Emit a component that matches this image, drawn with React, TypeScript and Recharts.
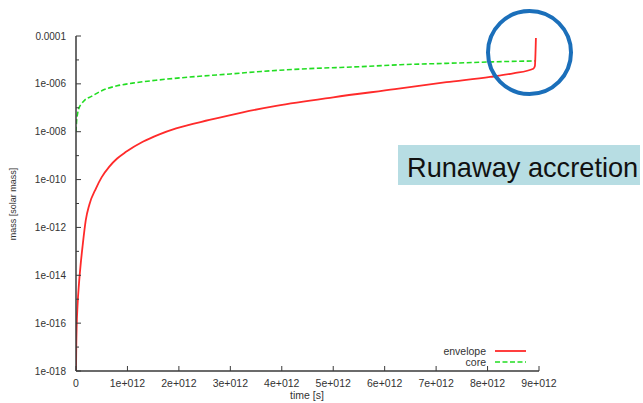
import React from 'react';
import { LineChart, Line, XAxis, YAxis } from 'recharts';

// time in units of 1e12 s
const TIME_UNIT = 1e12;

const envelopeTime = [0, 0.005, 0.013, 0.03, 0.058, 0.09, 0.13, 0.19, 0.259, 0.389, 0.5, 0.648, 0.8, 0.973, 1.298, 1.621, 1.946, 2.593, 3.243, 3.891, 5.0, 6.2, 7.2, 8.05, 8.5, 8.89, 8.92, 8.94];
const envelopeMass = [1e-18, 1e-17, 7.1e-17, 5.6e-16, 4.5e-15, 2.8e-14, 1.8e-13, 2.0e-12, 8.9e-12, 4.3e-11, 1.26e-10, 3.5e-10, 7.6e-10, 1.45e-9, 3.8e-9, 7.8e-9, 1.38e-8, 3.1e-8, 6.5e-8, 1.2e-7, 2.75e-7, 6.0e-7, 1.17e-6, 1.95e-6, 2.75e-6, 4.3e-6, 5.6e-6, 8.3e-5];

const coreTime = [0, 0.01, 0.03, 0.06, 0.1, 0.17, 0.3, 0.5, 0.8, 1.1, 1.6, 2.3, 3.0, 3.6, 4.5, 5.5, 6.3, 7.2, 8.1, 8.92];
const coreMass = [1.0e-8, 2.5e-8, 5.6e-8, 1.0e-7, 1.4e-7, 2.1e-7, 3.0e-7, 5.2e-7, 8.3e-7, 1.07e-6, 1.45e-6, 2.0e-6, 2.6e-6, 3.3e-6, 4.3e-6, 5.2e-6, 6.3e-6, 7.2e-6, 8.3e-6, 9.1e-6];

const xTickUnits = [0, 1, 2, 3, 4, 5, 6, 7, 8, 9];
const yTickExponents = [-18, -17, -16, -15, -14, -13, -12, -11, -10, -9, -8, -7, -6, -5, -4];
const yLabelExponents = [-18, -16, -14, -12, -10, -8, -6, -4];

const seriesInfo = [
  { name: 'envelope', color: '#ff2a2a', dash: undefined as string | undefined, width: 1.8 },
  { name: 'core', color: '#22dd22', dash: '5 2.5', width: 1.6 },
];

const envelopeData = envelopeTime.map((t, i) => ({ t: t * TIME_UNIT, m: envelopeMass[i] }));
const coreData = coreTime.map((t, i) => ({ t: t * TIME_UNIT, m: coreMass[i] }));
const xTicks = xTickUnits.map((k) => k * TIME_UNIT);
const yTicks = yTickExponents.map((e) => Number(`1e${e}`));

const FONT = '"Liberation Sans", Arial, sans-serif';
const AXIS = '#3a3a3a';
const TXT = '#333';

const expOf = (v: number) => Math.round(Math.log10(v));
const fmtX = (v: number) => {
  const k = Math.round(v / TIME_UNIT);
  return k === 0 ? '0' : `${k}e+012`;
};
const fmtY = (v: number) => {
  const e = expOf(v);
  return e === -4 ? '0.0001' : `1e-${String(-e).padStart(3, '0')}`;
};

const LeftTick = (props: any) => {
  const { x, y, payload } = props;
  const e = expOf(payload.value);
  const major = yLabelExponents.includes(e);
  const edge = x + 10;
  return (
    <g>
      <line x1={edge} x2={edge + (major ? 5 : 3)} y1={y} y2={y} stroke={AXIS} strokeWidth={1} />
      {major && (
        <text x={x} y={y} dy="0.36em" textAnchor="end" fontSize={10} fontFamily={FONT} fill={TXT}>
          {fmtY(payload.value)}
        </text>
      )}
    </g>
  );
};

const RightTick = (props: any) => {
  const { x, y, payload } = props;
  const e = expOf(payload.value);
  const major = yLabelExponents.includes(e);
  return <line x1={x - (major ? 5 : 3)} x2={x} y1={y} y2={y} stroke={AXIS} strokeWidth={1} />;
};

const BottomTick = (props: any) => {
  const { x, y, payload } = props;
  return (
    <g>
      <line x1={x} x2={x} y1={y} y2={y - 5} stroke={AXIS} strokeWidth={1} />
      <text x={x} y={y + 15.5} textAnchor="middle" fontSize={10.5} fontFamily={FONT} fill={TXT}>
        {fmtX(payload.value)}
      </text>
    </g>
  );
};

const TopTick = (props: any) => {
  const { x, y } = props;
  return <line x1={x} x2={x} y1={y} y2={y + 5} stroke={AXIS} strokeWidth={1} />;
};

export default function App() {
  return (
    <div style={{ position: 'absolute', left: 0, top: 0, width: 643, height: 403, background: '#fff', overflow: 'hidden' }}>
      <LineChart width={643} height={403} margin={{ top: 36, right: 104, bottom: 0, left: 0 }}>
        <XAxis
          dataKey="t"
          type="number"
          domain={[0, 9 * TIME_UNIT]}
          ticks={xTicks}
          interval={0}
          allowDataOverflow
          height={32}
          tickSize={0}
          tickMargin={0}
          tickLine={false}
          tick={<BottomTick />}
          axisLine={{ stroke: AXIS, strokeWidth: 1.5 }}
        />
        <XAxis
          xAxisId="top"
          orientation="top"
          dataKey="t"
          type="number"
          domain={[0, 9 * TIME_UNIT]}
          ticks={xTicks}
          interval={0}
          allowDataOverflow
          height={0}
          tickSize={0}
          tickMargin={0}
          tickLine={false}
          tick={<TopTick />}
          axisLine={{ stroke: AXIS, strokeWidth: 1.5 }}
        />
        <YAxis
          type="number"
          scale="log"
          domain={[1e-18, 1e-4]}
          ticks={yTicks}
          interval={0}
          allowDataOverflow
          width={76}
          tickSize={0}
          tickMargin={10}
          tickLine={false}
          tick={<LeftTick />}
          axisLine={{ stroke: AXIS, strokeWidth: 1.5 }}
        />
        <YAxis
          yAxisId="right"
          orientation="right"
          type="number"
          scale="log"
          domain={[1e-18, 1e-4]}
          ticks={yTicks}
          interval={0}
          allowDataOverflow
          width={0}
          tickSize={0}
          tickMargin={0}
          tickLine={false}
          tick={<RightTick />}
          axisLine={{ stroke: AXIS, strokeWidth: 1.5 }}
        />
        <Line
          data={coreData}
          dataKey="m"
          name={seriesInfo[1].name}
          type="monotone"
          stroke={seriesInfo[1].color}
          strokeWidth={seriesInfo[1].width}
          strokeDasharray={seriesInfo[1].dash}
          dot={false}
          activeDot={false}
          isAnimationActive={false}
        />
        <Line
          data={envelopeData}
          dataKey="m"
          name={seriesInfo[0].name}
          type="monotone"
          stroke={seriesInfo[0].color}
          strokeWidth={seriesInfo[0].width}
          dot={false}
          activeDot={false}
          isAnimationActive={false}
        />
      </LineChart>

      {/* axis titles */}
      <div style={{ position: 'absolute', left: 257, top: 388, width: 100, textAlign: 'center', fontFamily: FONT, fontSize: 10.5, color: TXT, lineHeight: '14px' }}>
        time [s]
      </div>
      <div
        style={{
          position: 'absolute', left: 12.5, top: 203.5, width: 120, marginLeft: -60, marginTop: -7,
          textAlign: 'center', fontFamily: FONT, fontSize: 9, color: TXT, lineHeight: '14px',
          transform: 'rotate(-90deg)',
        }}
      >
        mass [solar mass]
      </div>

      {/* legend */}
      {seriesInfo.map((s, i) => (
        <div key={s.name} style={{ position: 'absolute', left: 380, top: 344.5 + i * 11, width: 150, height: 12 }}>
          <div style={{ position: 'absolute', right: 44, top: 0, fontFamily: FONT, fontSize: 10.5, color: TXT, lineHeight: '12px', whiteSpace: 'nowrap' }}>
            {s.name}
          </div>
          <svg style={{ position: 'absolute', left: 115, top: 0 }} width={32} height={12}>
            <line x1={0} x2={31} y1={6} y2={6} stroke={s.color} strokeWidth={s.width} strokeDasharray={s.dash} />
          </svg>
        </div>
      ))}

      {/* annotation box */}
      <div style={{ position: 'absolute', left: 398, top: 145, width: 242, height: 40, background: '#b7dde3' }} />
      <div style={{ position: 'absolute', left: 407, top: 154, fontFamily: FONT, fontSize: 27.2, lineHeight: 1, color: '#111', whiteSpace: 'nowrap' }}>
        Runaway accretion
      </div>

      {/* highlight circle */}
      <div
        style={{
          position: 'absolute', left: 485.6, top: 8.6, width: 87.4, height: 87.4, boxSizing: 'border-box',
          border: '4px solid #1b6fba', borderRadius: '50%',
        }}
      />
    </div>
  );
}
